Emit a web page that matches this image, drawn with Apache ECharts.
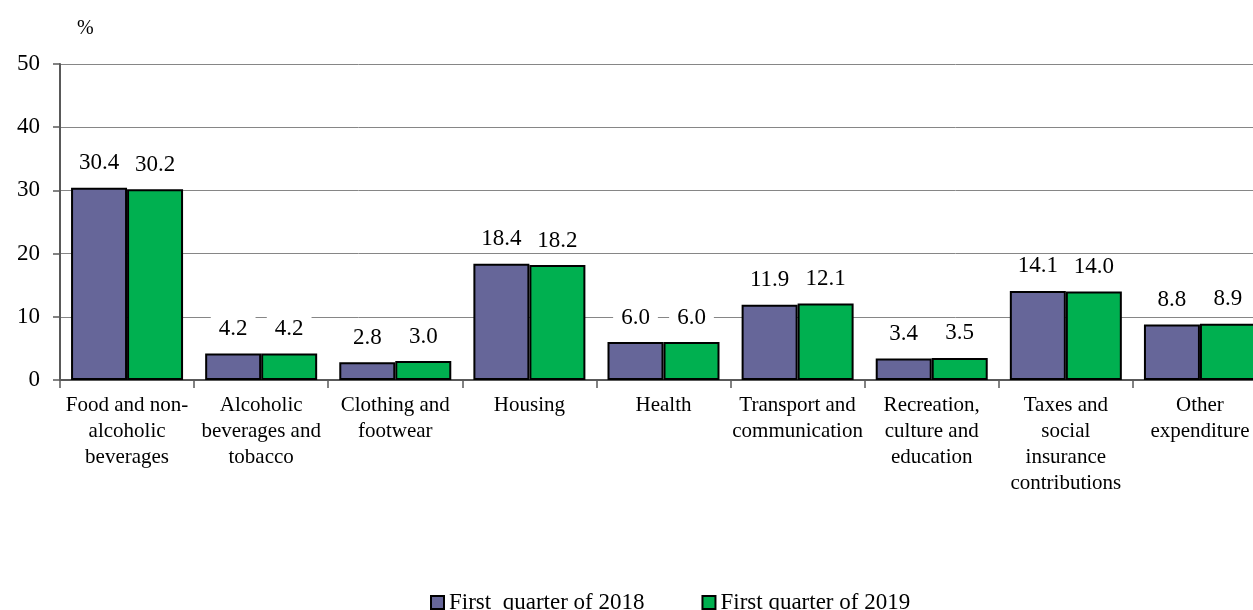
<!DOCTYPE html>
<html>
<head>
<meta charset="utf-8">
<script src="https://cdn.jsdelivr.net/npm/echarts@6/dist/echarts.min.js"></script>
<style>
  html, body { margin: 0; padding: 0; background: #fff; }
  #chart { width: 1253px; height: 610px; }
</style>
</head>
<body>
<div id="chart"></div>
<script>
// categories (line breaks as in the picture)
const categories = [
  'Food and non-\nalcoholic\nbeverages',
  'Alcoholic\nbeverages and\ntobacco',
  'Clothing and\nfootwear',
  'Housing',
  'Health',
  'Transport and\ncommunication',
  'Recreation,\nculture and\neducation',
  'Taxes and\nsocial\ninsurance\ncontributions',
  'Other\nexpenditure'
]
const seriesNames = ['First  quarter of 2018', 'First quarter of 2019']
const q1_2018 = [30.4, 4.2, 2.8, 18.4, 6.0, 11.9, 3.4, 14.1, 8.8]
const q1_2019 = [30.2, 4.2, 3.0, 18.2, 6.0, 12.1, 3.5, 14.0, 8.9]
const yTicks = [0, 10, 20, 30, 40, 50]

const serif = 'Liberation Serif, Times New Roman, serif'

const barLabel = {
  show: true,
  position: 'top',
  distance: 12,
  formatter: p => p.value.toFixed(1),
  backgroundColor: '#fff',
  padding: [1, 8],
  fontFamily: serif,
  fontSize: 23,
  color: '#000'
}

const myChart = echarts.init(document.getElementById('chart'))
myChart.setOption({
  animation: false,
  title: {
    text: '%',
    left: 72,
    top: 14,
    textStyle: { fontFamily: serif, fontSize: 20, fontWeight: 'normal', color: '#000' }
  },
  legend: {
    left: 425,
    top: 586,
    icon: 'rect',
    itemWidth: 13,
    itemHeight: 13,
    itemGap: 57,
    itemStyle: { borderColor: '#000', borderWidth: 2 },
    textStyle: { fontFamily: serif, fontSize: 23, color: '#000' }
  },
  // plot runs a little past the right edge, like the original
  grid: {
    left: 60,
    right: -14,
    top: 64,
    bottom: 230,
    outerBoundsMode: 'none'
  },
  xAxis: {
    type: 'category',
    data: categories,
    axisLine: { lineStyle: { color: '#595959', width: 2 } },
    axisTick: { show: true, length: 8, lineStyle: { color: '#595959', width: 1.5 } },
    axisLabel: {
      interval: 0,
      margin: 12,
      fontFamily: serif,
      fontSize: 21,
      lineHeight: 26,
      color: '#000'
    }
  },
  yAxis: {
    type: 'value',
    min: yTicks[0],
    max: yTicks[yTicks.length - 1],
    interval: 10,
    axisLine: { show: true, lineStyle: { color: '#595959', width: 2 } },
    axisTick: { show: true, length: 7, lineStyle: { color: '#595959', width: 1.5 } },
    splitLine: { lineStyle: { color: '#868686', width: 1 } },
    axisLabel: {
      margin: 20,
      fontFamily: serif,
      fontSize: 23,
      color: '#000'
    }
  },
  series: [
    {
      name: seriesNames[0],
      type: 'bar',
      data: q1_2018,
      barWidth: 56,
      barGap: '0%',
      itemStyle: { color: '#666699', borderColor: '#000', borderWidth: 2 },
      label: barLabel
    },
    {
      name: seriesNames[1],
      type: 'bar',
      data: q1_2019,
      barWidth: 56,
      barGap: '0%',
      itemStyle: { color: '#00B050', borderColor: '#000', borderWidth: 2 },
      label: barLabel
    }
  ]
})
</script>
</body>
</html>
